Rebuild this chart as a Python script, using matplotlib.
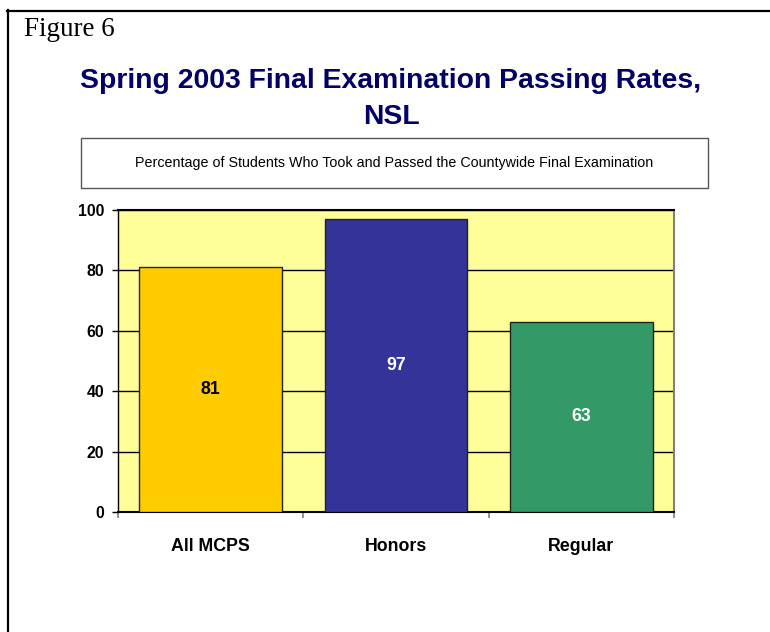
import matplotlib
matplotlib.use("Agg")
import matplotlib.pyplot as plt
from matplotlib import font_manager
from matplotlib.lines import Line2D

categories = ["All MCPS", "Honors", "Regular"]
pass_rates = [81, 97, 63]
bar_colors = ["#FFCC00", "#333399", "#339966"]
label_colors = ["black", "white", "white"]
y_ticks = [0, 20, 40, 60, 80, 100]

title_lines = ["Spring 2003 Final Examination Passing Rates,", "NSL"]
subtitle = "Percentage of Students Who Took and Passed the Countywide Final Examination"

installed = {f.name for f in font_manager.fontManager.ttflist}
narrow = "Liberation Sans Narrow" in installed
chart_font = "Liberation Sans Narrow" if narrow else "Liberation Sans"
scale = 1.0 if narrow else 0.85

W, H = 770, 632
fig = plt.figure(figsize=(W / 100, H / 100), dpi=100)

def fx(px):
    return px / W

def fy(py):
    return 1 - py / H

ax = fig.add_axes([fx(118), fy(512), fx(674) - fx(118), fy(210) - fy(512)])
ax.set_facecolor("#FFFF99")

x = range(len(categories))
ax.bar(x, pass_rates, width=0.77, color=bar_colors, edgecolor="#222222", linewidth=1, zorder=3)
for i, v in enumerate(pass_rates):
    ax.text(i, v / 2, str(v), ha="center", va="center", color=label_colors[i],
            fontsize=15 * scale, fontweight="bold", family=chart_font, zorder=4)

ax.set_xlim(-0.5, len(categories) - 0.5)
ax.set_ylim(0, 100)
ax.set_yticks(y_ticks)
ax.set_yticklabels([str(t) for t in y_ticks], fontsize=13.5 * scale, fontweight="bold", family=chart_font)
ax.yaxis.grid(True, color="black", linewidth=1)
ax.set_axisbelow(True)

# category labels centred, ticks on the category boundaries
ax.set_xticks([i - 0.5 for i in range(len(categories) + 1)])
ax.set_xticklabels([])
ax.set_xticks(list(x), minor=True)
ax.set_xticklabels(categories, minor=True, fontsize=15 * scale, fontweight="bold", family=chart_font)
ax.tick_params(axis="x", which="minor", length=0, pad=19)
ax.tick_params(axis="x", which="major", length=4, color="#808080", width=1.2)
ax.tick_params(axis="y", length=4, color="black", width=1, pad=6)

for side in ["top", "left", "bottom"]:
    ax.spines[side].set_color("black")
ax.spines["top"].set_linewidth(1.5)
ax.spines["bottom"].set_linewidth(1.5)
ax.spines["left"].set_linewidth(1)
ax.spines["right"].set_color("#808080")
ax.spines["right"].set_linewidth(1.5)

# outer frame (left and top only are visible in the reference)
fig.add_artist(Line2D([fx(8), fx(8)], [fy(10), 0], color="black", linewidth=1.6))
fig.add_artist(Line2D([fx(7), 1], [fy(10.5), fy(10.5)], color="black", linewidth=1.6))

fig.text(fx(24), fy(36), "Figure 6", fontsize=19.5, family="Liberation Serif", va="baseline", ha="left")

for line, base in zip(title_lines, [88, 124]):
    fig.text(fx(391), fy(base), line, ha="center", va="baseline",
             fontsize=24 * scale, fontweight="bold", color="#000066", family=chart_font)

# subtitle box
box = plt.Rectangle((fx(81), fy(188)), fx(708) - fx(81), fy(138) - fy(188), transform=fig.transFigure,
                    facecolor="white", edgecolor="#555555", linewidth=1)
fig.add_artist(box)
fig.text(fx(394.5), fy(163), subtitle, ha="center", va="center", fontsize=10.3, family="Liberation Sans")

fig.savefig("out.png", dpi=100)
plt.close()
